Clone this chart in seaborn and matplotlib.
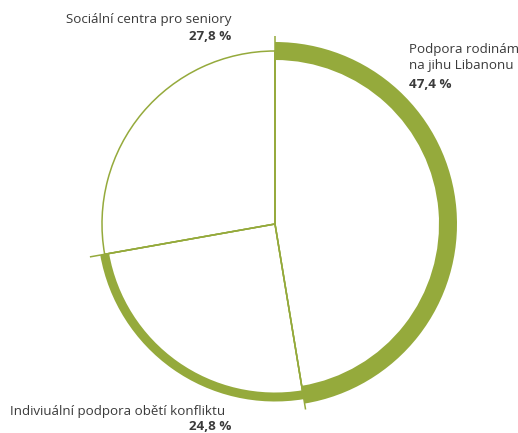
import matplotlib
matplotlib.use("Agg")
import matplotlib.pyplot as plt
import seaborn as sns
import numpy as np

categories = ["Podpora rodinám\nna jihu Libanonu", "Indiviuální podpora obětí konfliktu", "Sociální centra pro seniory"]
values = [47.4, 24.8, 27.8]
pct_labels = ["47,4 %", "24,8 %", "27,8 %"]
band_widths = [18, 9, 0]

sns.set_theme(style="white")
plt.rcParams['font.family'] = ['Open Sans', 'DejaVu Sans']

GREEN = "#95AA3C"
TEXT = "#3a3a3a"
W, H = 518, 433
fig = plt.figure(figsize=(W/100, H/100), dpi=100)
ax = fig.add_axes([0, 0, 1, 1])
ax.set_xlim(0, W)
ax.set_ylim(0, H)
ax.set_aspect('equal')
ax.axis('off')

cx, cy = 275, H - 224
R = 173

# thin outline of the pie
wedges, _ = ax.pie(values, startangle=90, counterclock=False, radius=R, center=(cx, cy),
                   wedgeprops=dict(fill=False, edgecolor=GREEN, linewidth=1.1))

# thick bands per slice
bands, _ = ax.pie(values, startangle=90, counterclock=False, radius=R, center=(cx, cy),
                  wedgeprops=dict(facecolor=GREEN, edgecolor='none', linewidth=0))
for w, bw in zip(bands, band_widths):
    if bw <= 0:
        w.set_visible(False)
        continue
    w.set_radius(R + bw / 2)
    w.set_width(bw)
ax.set_xlim(0, W)
ax.set_ylim(0, H)

# radial separators extending past the rim
cum = np.cumsum([0] + values[:-1])
for c in cum:
    ang = np.deg2rad(90 - c / sum(values) * 360)
    ax.plot([cx, cx + 188 * np.cos(ang)], [cy, cy + 188 * np.sin(ang)],
            color=GREEN, linewidth=1.1, solid_capstyle='butt', zorder=5)

fs = 9.6
ax.text(409, H - 58, categories[0], ha='left', va='center', fontsize=fs, color=TEXT, linespacing=1.3)
ax.text(409, H - 85, pct_labels[0], ha='left', va='center', fontsize=fs, color=TEXT, fontweight='bold')
ax.text(10, H - 411, categories[1], ha='left', va='center', fontsize=fs, color=TEXT)
ax.text(231, H - 427, pct_labels[1], ha='right', va='center', fontsize=fs, color=TEXT, fontweight='bold')
ax.text(231, H - 19, categories[2], ha='right', va='center', fontsize=fs, color=TEXT)
ax.text(231, H - 36, pct_labels[2], ha='right', va='center', fontsize=fs, color=TEXT, fontweight='bold')

fig.savefig("out.png", dpi=100, facecolor='white')
